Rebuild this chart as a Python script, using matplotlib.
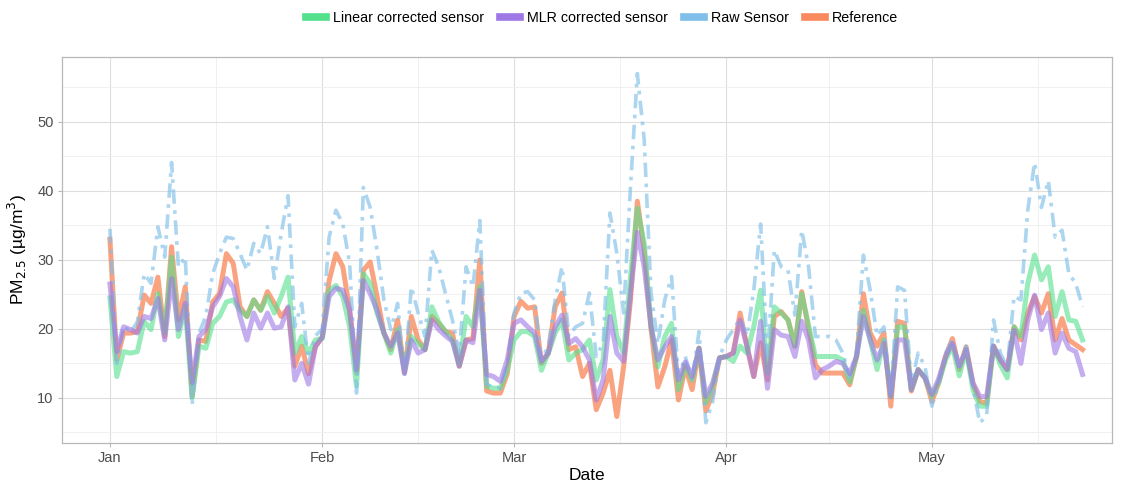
import numpy as np
import pandas as pd
import matplotlib
matplotlib.use("Agg")
import matplotlib.pyplot as plt
from matplotlib.lines import Line2D

plt.rcParams['font.family'] = ['Liberation Sans', 'DejaVu Sans']

# daily values, Jan 1 .. May 23
reference = [33, 15.5, 19.4, 19.4, 19.6, 24.9, 23.7, 27.5, 18.9, 31.9,
             21.3, 26.1, 10.2, 18.4, 18.2, 23.9, 25.1, 30.9, 29.5, 23.2,
             21.8, 24.2, 22.7, 25.4, 23.7, 21.8, 23, 14.6, 17.5, 13.5,
             17.5, 18.8, 27, 30.9, 29, 22.7, 13.6, 28.5, 29.7, 24.7,
             19.4, 17, 21.3, 13.6, 21.8, 18.4, 17, 21.8, 20.8, 19.6,
             19.4, 14.6, 18.4, 18.6, 30, 11, 10.7, 10.7, 13.5, 21.8,
             24, 23, 23.2, 15, 16.5, 23.2, 25.2, 17, 17.4, 13.1,
             15, 8.3, 10.7, 14, 7.3, 14.5, 24.2, 38.5, 31.4, 20,
             11.6, 14.5, 18.4, 9.7, 14.5, 11.2, 17.2, 8.1, 10.7, 15.8,
             16, 16.5, 22.3, 17.5, 13.1, 18, 12.6, 21.8, 22.5, 21.3,
             17.5, 25.4, 20, 14.8, 13.6, 13.6, 13.6, 13.6, 11.9, 16,
             25.1, 19.4, 17.5, 19.4, 8.8, 21.1, 20.8, 11, 14.1, 12.9,
             9.5, 12.2, 16, 18.6, 14.1, 17.4, 12, 9.5, 9.2, 17.5,
             15.5, 14.1, 20.3, 18.4, 22.3, 24.7, 22.3, 25.1, 18.4, 21.5,
             18.4, 17.7, 17]
linear = [24.5, 13.1, 16.7, 16.5, 16.7, 21.1, 19.9, 25.1, 19.4, 30.4,
          18.9, 23.2, 10, 17.5, 17.2, 20.8, 21.8, 23.9, 24.2, 22.7,
          21.8, 24.2, 22.7, 24.7, 22.3, 24.7, 27.5, 16.5, 18.9, 16.5,
          18.4, 18.6, 25.6, 26.3, 24.7, 20.3, 11.7, 28, 26.6, 22.3,
          19.4, 16.5, 19.9, 14, 18.9, 17.9, 17, 23.2, 21, 19.6,
          18.4, 14.8, 21.8, 20.3, 26.1, 11.7, 11.4, 11.4, 14, 18.4,
          19.6, 19.6, 18.9, 14, 16.5, 19.4, 21.3, 15.5, 16.5, 17,
          18.4, 12.6, 15.5, 25.7, 18.9, 16.5, 27.6, 37.5, 32.4, 20.5,
          14.5, 18.9, 20.8, 11.2, 14.8, 12.6, 17.2, 9.3, 11.7, 15.8,
          16, 15.3, 17.5, 16.5, 20.3, 25.6, 13.6, 23.2, 22.3, 21.3,
          17.5, 25.1, 20.5, 16, 16, 16, 16, 15.5, 12.3, 16,
          22.7, 18.4, 14.1, 18.4, 10.2, 20.3, 20.3, 11.2, 14.1, 12.9,
          10.2, 12.2, 15.5, 17.5, 13.2, 17, 11.2, 8.8, 8.8, 17.5,
          14.8, 12.9, 20.3, 18.9, 26.6, 30.7, 27.1, 29, 21.8, 25.4,
          21.3, 21.1, 18.4]
mlr = [26.5, 16.7, 20.3, 19.9, 19.4, 21.8, 21.5, 24.4, 18.4, 27.3,
       19.9, 23.7, 12.2, 18.9, 19.9, 23.2, 24.7, 27.3, 26.1, 21.8,
       18.4, 22.3, 20.1, 22.3, 20.1, 20.3, 23.2, 12.6, 15, 12,
       17.4, 18.8, 24.7, 25.9, 25.6, 22.7, 14.1, 27, 25.1, 22.7,
       19.4, 17.5, 19.4, 13.6, 18.4, 16.5, 17, 21.3, 19.9, 19,
       18.2, 14.6, 18.4, 18, 25.6, 13.4, 13.1, 12.4, 15.5, 20.8,
       21.3, 20.3, 19.4, 15.3, 16.5, 20.3, 22, 17.9, 18.6, 17.4,
       15.5, 9.7, 12.6, 21.8, 16.5, 15.3, 25.2, 34, 29, 20.3,
       15.5, 17.4, 18.9, 12.6, 15.2, 13.1, 17.2, 10.2, 12.2, 15.8,
       16, 16.5, 21.3, 17.5, 13.1, 21.1, 11.4, 19.9, 19.1, 18.9,
       16, 21.1, 18.4, 12.9, 14.1, 14.6, 15.3, 15, 13.5, 16,
       21.8, 18.4, 15.5, 17.9, 10.2, 18.4, 18.4, 11.2, 14.1, 12.9,
       10.5, 12.8, 16, 17.9, 14.6, 17, 12.2, 10.2, 10.2, 17.5,
       15.5, 14.1, 19.8, 15, 21.3, 24.9, 19.9, 22.3, 16.5, 19.4,
       17.2, 16.7, 13.4]
raw = [34.5, 15, 20.5, 19.5, 21, 28, 26.6, 34.8, 30.4, 44.1,
       29, 30.4, 9, 19.4, 21.8, 28, 30.9, 33.3, 33.1, 30.9,
       28.5, 32.4, 30.9, 34.8, 27.3, 33.8, 39.3, 20.3, 23.7, 15,
       19, 20, 33.3, 37.2, 35.2, 29.5, 10.7, 40.5, 37.6, 31.4,
       24.2, 19.9, 23.7, 13.1, 26.1, 22.3, 18.9, 31.4, 29, 25.1,
       21.3, 16.5, 29, 26.1, 35.7, 12, 11.5, 11.5, 15, 22.3,
       25.2, 25.4, 24.2, 15.5, 17.5, 24.2, 29, 18.9, 20.3, 20.8,
       25.2, 16, 17.9, 36.8, 31, 22.3, 40.6, 57, 47.4, 25.2,
       17.9, 24.2, 27.6, 13, 16, 12.5, 19.6, 6.4, 9.5, 16,
       18.4, 19.9, 21.5, 19, 25.6, 35.2, 16, 31.4, 29, 28.5,
       22, 34.3, 29, 18.9, 18.9, 18.9, 18.4, 16.5, 13, 16.5,
       30.7, 25.6, 19, 20.3, 10, 26.1, 25.6, 12, 16.5, 14.5,
       8.8, 12, 16.5, 18.5, 14.5, 17.5, 11.5, 6.4, 7.4, 21.3,
       16.5, 14.5, 24.7, 24.2, 37.2, 44.1, 37.6, 41.5, 33.3, 34.3,
       28, 26.6, 23.2]

dates = pd.date_range("2023-01-01", periods=len(reference), freq="D")

c_lin = "#52e08c"
c_mlr = "#9f78e6"
c_raw = "#80bfe9"
c_ref = "#f98a5e"

fig = plt.figure(figsize=(11.27, 4.83), dpi=100)
ax = fig.add_axes([0.055, 0.083, 0.9317, 0.799])

ax.plot(dates, reference, color=c_ref, lw=3.6, alpha=0.78, solid_joinstyle="round", zorder=3)
ax.plot(dates, linear, color=c_lin, lw=3.6, alpha=0.6, solid_joinstyle="round", zorder=3)
ax.plot(dates, raw, color=c_raw, lw=2.6, alpha=0.65, dashes=(4, 1.8, 1, 1.8), zorder=3)
ax.plot(dates, mlr, color=c_mlr, lw=3.6, alpha=0.6, solid_joinstyle="round", zorder=4)

start = pd.Timestamp("2023-01-01")
ax.set_xlim(start - pd.Timedelta(days=7.0), start + pd.Timedelta(days=146.3))
ax.set_ylim(3.48, 59.4)

months = pd.date_range("2023-01-01", "2023-06-01", freq="MS")
ax.set_xticks(months[:-1])
ax.set_xticklabels(["Jan", "Feb", "Mar", "Apr", "May"])
mids = [months[i] + (months[i + 1] - months[i]) / 2 for i in range(len(months) - 1)]
ax.set_xticks(mids, minor=True)
ax.set_yticks([10, 20, 30, 40, 50])
ax.set_yticks([5, 15, 25, 35, 45, 55], minor=True)

ax.grid(which="major", color="#dedede", lw=0.8, zorder=0)
ax.grid(which="minor", color="#eeeeee", lw=0.6, zorder=0)
ax.set_axisbelow(True)
for s in ax.spines.values():
    s.set_color("#b8b8b8")
    s.set_linewidth(0.9)
ax.tick_params(which="major", length=3, color="#b8b8b8", labelsize=10.5, labelcolor="#4d4d4d", pad=3)
ax.tick_params(which="minor", length=0)

ax.set_xlabel("Date", fontsize=12.5, labelpad=2)
ax.set_ylabel("PM$_{2.5}$ (µg/m$^{3}$)", fontsize=12.5, labelpad=6)

handles = [Line2D([], [], color=c, lw=5.5) for c in (c_lin, c_mlr, c_raw, c_ref)]
fig.legend(handles, ["Linear corrected sensor", "MLR corrected sensor", "Raw Sensor", "Reference"],
           loc="center", bbox_to_anchor=(0.534, 0.963), ncol=4, frameon=False,
           fontsize=10.3, handlelength=1.4, columnspacing=1.1, handletextpad=0.5)

fig.savefig("out.png", dpi=100)
